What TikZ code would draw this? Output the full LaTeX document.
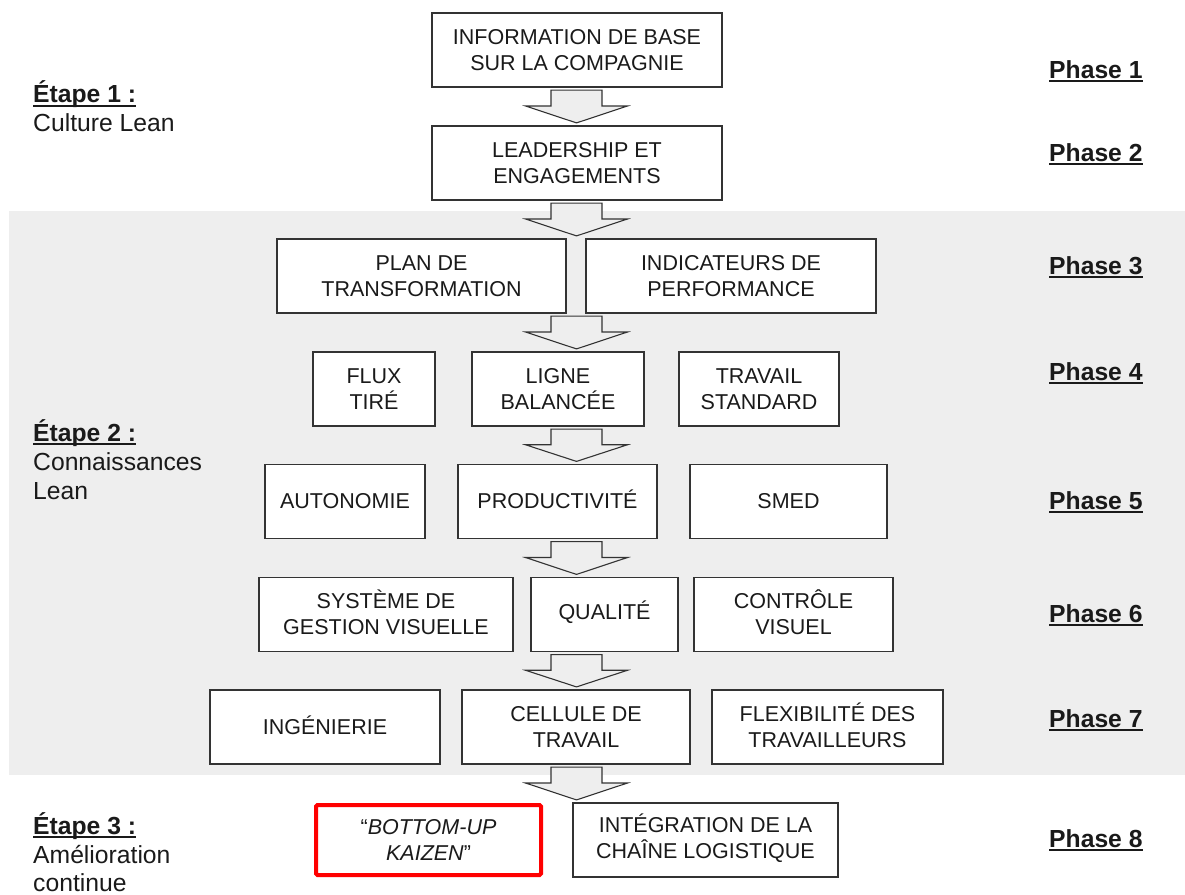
\documentclass[tikz,border=0pt]{standalone}
\usepackage{fontspec}
\setmainfont{Liberation Sans}
\usetikzlibrary{calc}
\definecolor{panel}{HTML}{EEEEEE}
\definecolor{ink}{HTML}{1A1A1A}
\definecolor{edge}{HTML}{333333}
\definecolor{kaizenred}{HTML}{FF0000}
% underline drawn as a rule below the text
\newcommand\ulbox[1]{\leavevmode\setbox0\hbox{#1}\rlap{\raisebox{-4pt}{\rule{\wd0}{1.8pt}}}\box0}
% accented capital that does not push the line off centre
\newcommand\acap[1]{\smash{#1}}
% hollow block arrow between two stacked rows
\newcommand\flowarrow[2]{%
  \path (axis |- #1.south) ++(0,-2.5) coordinate (fa-t);
  \path (axis |- #2.north) ++(0,2.5) coordinate (fa-b);
  \draw[bigarrow] let \p1=(fa-t), \p2=(fa-b), \n1={(\y1+\y2)/2+0.5} in
    (\x1-25.5pt,\y1) -- (\x1+25.5pt,\y1) -- (\x1+25.5pt,\n1) -- (\x1+51pt,\n1)
    -- (\x1,\y2) -- (\x1-51pt,\n1) -- (\x1-25.5pt,\n1) -- cycle;
}
\tikzset{
  stepbox/.style={draw=edge, line width=1.2pt, fill=white, text=ink, align=center,
    minimum height=74pt, inner sep=0pt, font=\fontsize{21.5}{26}\selectfont},
  kaizenbox/.style={stepbox, draw=kaizenred, line width=4pt, rounded corners=1.5pt,
    minimum height=70pt},
  bigarrow/.style={draw=edge, line width=1.1pt, fill=panel, line join=miter},
  phaselabel/.style={anchor=base west, inner sep=0pt, text=ink,
    font=\fontsize{24.7}{29}\selectfont\bfseries},
  stagelabel/.style={anchor=base west, inner sep=0pt, text=ink,
    font=\fontsize{24.7}{29}\selectfont},
}
\begin{document}
\begin{tikzpicture}[x=1pt, y=1pt]
\useasboundingbox (0,0) rectangle (1185,-894);
\fill[panel] (9,-211) rectangle (1185,-775);
\coordinate (axis) at (576.5,0);

% stage labels
\node[stagelabel] (e1a) at (33,-102.5) {\ulbox{\bfseries Étape 1 :}};
\node[stagelabel] (e1b) at (33,-131) {Culture Lean};
\node[stagelabel] (e2a) at (33,-441) {\ulbox{\bfseries Étape 2 :}};
\node[stagelabel] (e2b) at (33,-470) {Connaissances};
\node[stagelabel] (e2c) at (33,-499.5) {Lean};
\node[stagelabel] (e3a) at (33,-834) {\ulbox{\bfseries Étape 3 :}};
\node[stagelabel] (e3b) at (33,-863) {Amélioration};
\node[stagelabel] (e3c) at (33,-891) {continue};

% phase labels
\node[phaselabel] (p1) at (1049,-78) {\ulbox{Phase 1}};
\node[phaselabel] (p2) at (1049,-161) {\ulbox{Phase 2}};
\node[phaselabel] (p3) at (1049,-274) {\ulbox{Phase 3}};
\node[phaselabel] (p4) at (1049,-380) {\ulbox{Phase 4}};
\node[phaselabel] (p5) at (1049,-509) {\ulbox{Phase 5}};
\node[phaselabel] (p6) at (1049,-622) {\ulbox{Phase 6}};
\node[phaselabel] (p7) at (1049,-727) {\ulbox{Phase 7}};
\node[phaselabel] (p8) at (1049,-847) {\ulbox{Phase 8}};

% phase 1--2
\node[stepbox, minimum width=290pt] (info) at (577,-50) {INFORMATION DE BASE\\SUR LA COMPAGNIE};
\node[stepbox, minimum width=290pt] (lead) at (577,-163) {LEADERSHIP ET\\ENGAGEMENTS};
% phase 3
\node[stepbox, minimum width=289pt] (plan) at (421.5,-276) {PLAN DE\\TRANSFORMATION};
\node[stepbox, minimum width=290pt] (indic) at (731,-276) {INDICATEURS DE\\PERFORMANCE};
% phase 4
\node[stepbox, minimum width=122pt] (flux) at (374,-389) {FLUX\\TIRÉ};
\node[stepbox, minimum width=172pt] (ligne) at (558,-389) {LIGNE\\BALANCÉE};
\node[stepbox, minimum width=160pt] (trav) at (759,-389) {TRAVAIL\\STANDARD};
% phase 5
\node[stepbox, minimum width=160pt] (auto) at (345,-501.5) {AUTONOMIE};
\node[stepbox, minimum width=199pt] (prod) at (557.5,-501.5) {PRODUCTIVIT\acap{É}};
\node[stepbox, minimum width=197pt] (smed) at (788.5,-501.5) {SMED};
% phase 6
\node[stepbox, minimum width=254pt] (sys) at (386,-614.5) {SYST\acap{È}ME DE\\GESTION VISUELLE};
\node[stepbox, minimum width=147pt] (qual) at (604.5,-614.5) {QUALIT\acap{É}};
\node[stepbox, minimum width=199pt] (ctrl) at (793.5,-614.5) {CONTR\acap{Ô}LE\\VISUEL};
% phase 7
\node[stepbox, minimum width=230pt] (ing) at (325,-727) {ING\acap{É}NIERIE};
\node[stepbox, minimum width=228pt] (cell) at (576,-727) {CELLULE DE\\TRAVAIL};
\node[stepbox, minimum width=231pt] (flex) at (827.5,-727) {FLEXIBILIT\acap{É} DES\\TRAVAILLEURS};
% phase 8
\node[kaizenbox, minimum width=225pt] (kaizen) at (428.5,-840) {“\textit{BOTTOM-UP}\\\textit{KAIZEN}”};
\node[stepbox, minimum width=265pt] (integ) at (705.5,-840) {INT\acap{É}GRATION DE LA\\CHAÎNE LOGISTIQUE};

% block arrows
\flowarrow{info}{lead}
\flowarrow{lead}{plan}
\flowarrow{plan}{ligne}
\flowarrow{ligne}{prod}
\flowarrow{prod}{qual}
\flowarrow{qual}{cell}
\flowarrow{cell}{integ}
\end{tikzpicture}
\end{document}
